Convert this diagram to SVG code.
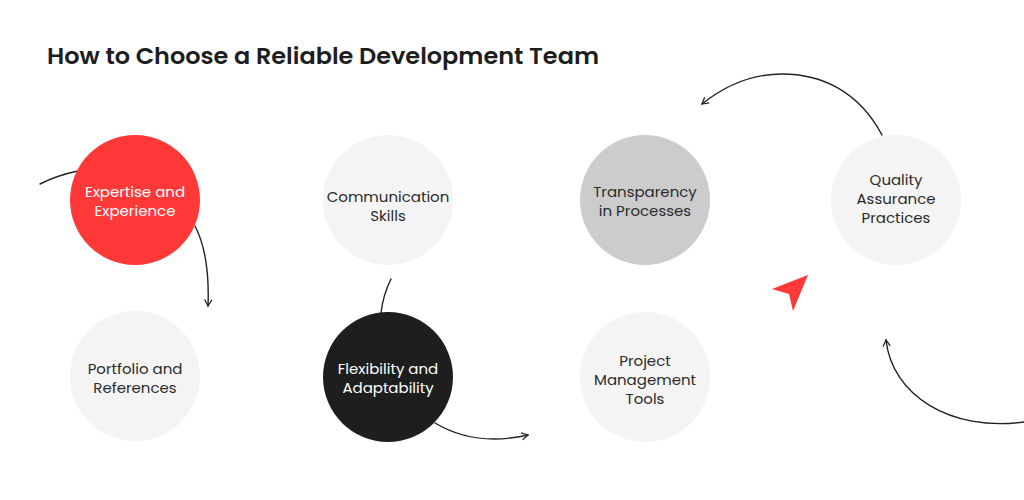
<svg xmlns="http://www.w3.org/2000/svg" width="1024" height="500" viewBox="0 0 1024 500">
<defs>
<style>
.t{font-family:"Poppins","Inter","Noto Sans",sans-serif;font-size:15px;text-anchor:middle;fill:#2b2b2b}
.w{fill:#ffffff}
.title{font-family:"Poppins","Inter","Noto Sans",sans-serif;font-size:22px;font-weight:600;fill:#1e1e1e}
.c{fill:none;stroke:#222;stroke-width:1.4;stroke-linecap:round}
</style>
<marker id="ah" viewBox="0 0 10 10" refX="8" refY="5" markerWidth="9" markerHeight="9" markerUnits="userSpaceOnUse" orient="auto">
<path d="M1,1 L8,5 L1,9" fill="none" stroke="#222" stroke-width="1.4"/>
</marker>
</defs>
<rect width="1024" height="500" fill="#ffffff"/>
<text class="title" x="47" y="64" textLength="552" lengthAdjust="spacingAndGlyphs">How to Choose a Reliable Development Team</text>
<g id="connectors">
<path class="c" d="M40,184 Q58,175 78,171"/>
<path class="c" d="M195,226 Q210,255 208,306" marker-end="url(#ah)"/>
<path class="c" d="M391,279 Q383,295 381,313"/>
<path class="c" d="M435,423 Q475,447 528,435" marker-end="url(#ah)"/>
<path class="c" d="M882,135 C858,90 820,74 782,74 C750,74 722,88 702,104" marker-end="url(#ah)"/>
<path class="c" d="M1024,422 C950,432 892,395 886,340" marker-end="url(#ah)"/>
</g>
<g id="n1"><circle cx="135" cy="200" r="65" fill="#ff3838"/><text class="t w" x="135" y="197">Expertise and</text><text class="t w" x="135" y="216">Experience</text></g>
<g id="n2"><circle cx="135" cy="376" r="65" fill="#f4f4f4"/><text class="t" x="135" y="374">Portfolio and</text><text class="t" x="135" y="393">References</text></g>
<g id="n3"><circle cx="388" cy="200" r="65" fill="#f4f4f4"/><text class="t" x="388" y="202">Communication</text><text class="t" x="388" y="221">Skills</text></g>
<g id="n4"><circle cx="388" cy="377" r="65" fill="#1e1e1e"/><text class="t w" x="388" y="374">Flexibility and</text><text class="t w" x="388" y="393">Adaptability</text></g>
<g id="n5"><circle cx="645" cy="200" r="65" fill="#cccccc"/><text class="t" x="645" y="197">Transparency</text><text class="t" x="645" y="216">in Processes</text></g>
<g id="n6"><circle cx="645" cy="377" r="65" fill="#f4f4f4"/><text class="t" x="645" y="366">Project</text><text class="t" x="645" y="385">Management</text><text class="t" x="645" y="404">Tools</text></g>
<g id="n7"><circle cx="896" cy="200" r="65" fill="#f4f4f4"/><text class="t" x="896" y="185">Quality</text><text class="t" x="896" y="204">Assurance</text><text class="t" x="896" y="223">Practices</text></g>
<polygon points="808,275 772,289 789,294 793,311" fill="#ff3838"/>
</svg>
